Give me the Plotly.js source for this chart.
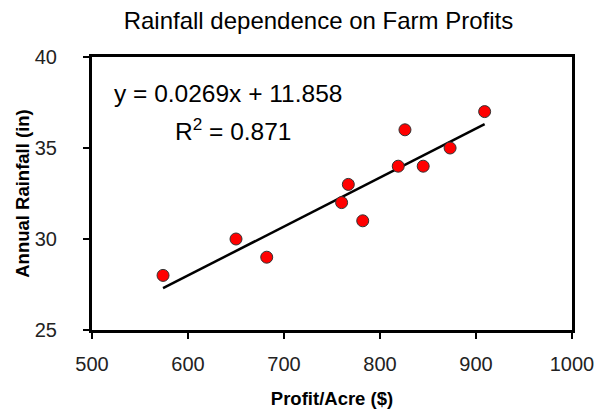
<!DOCTYPE html>
<html>
<head>
<meta charset="utf-8">
<script src="https://cdn.plot.ly/plotly-3.0.1.min.js"></script>
<style>html,body{margin:0;padding:0;background:#fff;}#chart{width:610px;height:413px;}</style>
</head>
<body>
<div id="chart"></div>
<script>
const profit = [574, 650, 682, 760, 767, 782, 819, 826, 845, 873, 909];
const rainfall = [28, 30, 29, 32, 33, 31, 34, 36, 34, 35, 37];
const xTicks = [500, 600, 700, 800, 900, 1000];
const yTicks = [25, 30, 35, 40];
const slope = 0.0269;
const intercept = 11.858;
const r2 = 0.871;

const xMin = Math.min(...profit), xMax = Math.max(...profit);
const trendX = [xMin, xMax];
const trendY = trendX.map(v => slope * v + intercept);

const font = "Liberation Sans, Arial, sans-serif";

const traces = [
  {x: trendX, y: trendY, mode: 'lines', line: {color: '#000', width: 2.5}, hoverinfo: 'skip'},
  {x: profit, y: rainfall, mode: 'markers',
   marker: {color: '#ff0000', size: 12, line: {color: '#333', width: 1}}}
];

const layout = {
  width: 610, height: 413,
  margin: {l: 92, r: 38, t: 57, b: 83},
  showlegend: false,
  paper_bgcolor: '#fff', plot_bgcolor: '#fff',
  font: {family: font, color: '#000'},
  title: {text: 'Rainfall dependence on Farm Profits', font: {size: 24, color: '#000'}, x: 0.522, xanchor: 'center', y: 0.95, yanchor: 'middle'},
  xaxis: {
    range: [500, 1000], tickvals: xTicks, ticktext: xTicks.map(String),
    showgrid: false, zeroline: false, showline: true, mirror: true, linecolor: '#000', linewidth: 3,
    ticks: 'outside', ticklen: 6, tickwidth: 1.5, tickcolor: '#000',
    tickfont: {size: 20, color: '#222'}, ticklabelstandoff: 8,
    title: {text: '<b>Profit/Acre ($)</b>', font: {size: 18.5, color: '#000'}, standoff: 19}
  },
  yaxis: {
    range: [25, 40], tickvals: yTicks, ticktext: yTicks.map(String),
    showgrid: false, zeroline: false, showline: true, mirror: true, linecolor: '#000', linewidth: 3,
    ticks: 'outside', ticklen: 6, tickwidth: 1.5, tickcolor: '#000',
    tickfont: {size: 20, color: '#222'}, ticklabelstandoff: 22,
    title: {text: '<b>Annual Rainfall (in)</b>', font: {size: 18.5, color: '#000'}, standoff: 1}
  },
  annotations: [
    {xref: 'paper', yref: 'paper', x: 0.042, y: 0.868, xanchor: 'left', yanchor: 'middle', showarrow: false,
     text: 'y = ' + slope + 'x + ' + intercept, font: {size: 24.5, color: '#000'}},
    {xref: 'paper', yref: 'paper', x: 0.169, y: 0.733, xanchor: 'left', yanchor: 'middle', showarrow: false,
     text: 'R<sup>2</sup> = ' + r2, font: {size: 24.5, color: '#000'}}
  ]
};

Plotly.newPlot('chart', traces, layout, {displayModeBar: false, staticPlot: true});
</script>
</body>
</html>
